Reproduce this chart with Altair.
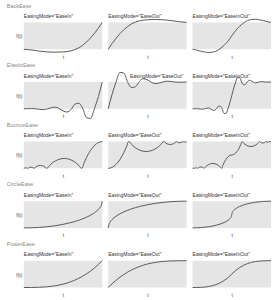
import altair as alt
import pandas as pd

ROW_NAMES = ["BackEase", "ElasticEase", "BounceEase", "CircleEase", "PowerEase"]
MODE_NAMES = ["EaseIn", "EaseOut", "EaseInOut"]

T10 = [0.0, 0.1, 0.2, 0.3, 0.4, 0.5, 0.6, 0.7, 0.8, 0.9, 1.0]
T20 = [0.0, 0.05, 0.1, 0.15, 0.2, 0.25, 0.3, 0.35, 0.4, 0.45, 0.5,
       0.55, 0.6, 0.65, 0.7, 0.75, 0.8, 0.85, 0.9, 0.95, 1.0]
T40 = [0.0, 0.025, 0.05, 0.075, 0.1, 0.125, 0.15, 0.175, 0.2, 0.225, 0.25,
       0.275, 0.3, 0.325, 0.35, 0.375, 0.4, 0.425, 0.45, 0.475, 0.5,
       0.525, 0.55, 0.575, 0.6, 0.625, 0.65, 0.675, 0.7, 0.725, 0.75,
       0.775, 0.8, 0.825, 0.85, 0.875, 0.9, 0.925, 0.95, 0.975, 1.0]

# BackEase
back_in_t = T10
back_in_v = [0, -0.03, -0.07, -0.1, -0.11, -0.1, -0.06, 0.05, 0.27, 0.59, 1.0]
back_out_t = T10
back_out_v = [0, 0.41, 0.73, 0.95, 1.06, 1.1, 1.11, 1.1, 1.07, 1.03, 1.0]
back_io_t = T20
back_io_v = [0, -0.03, -0.07, -0.1, -0.12, -0.11, -0.07, 0.02, 0.14, 0.3, 0.5,
             0.7, 0.86, 0.98, 1.07, 1.11, 1.12, 1.1, 1.07, 1.03, 1.0]

# ElasticEase
elastic_in_t = T20
elastic_in_v = [0, 0.005, 0.01, 0, -0.02, -0.03, -0.005, 0.04, 0.06, 0.01, -0.08,
                -0.12, -0.03, 0.17, 0.21, 0.02, -0.33, -0.36, 0, 0.45, 1.0]
elastic_out_t = T20
elastic_out_v = [0, 0.55, 1.0, 1.36, 1.33, 0.98, 0.79, 0.83, 1.03, 1.12, 1.08,
                 0.99, 0.94, 0.96, 1.005, 1.03, 1.02, 1.0, 0.99, 0.995, 1.0]
elastic_io_t = T40
elastic_io_v = [0, 0.0025, 0.005, 0, -0.01, -0.015, -0.0025, 0.02, 0.03, 0.005, -0.04,
                -0.06, -0.015, 0.085, 0.105, 0.01, -0.165, -0.18, 0, 0.225, 0.5,
                0.775, 1.0, 1.18, 1.165, 0.99, 0.895, 0.915, 1.015, 1.06, 1.04,
                0.995, 0.97, 0.98, 1.0025, 1.015, 1.01, 1.0, 0.995, 0.9975, 1.0]

# BounceEase
bounce_in_t = [0, 0.0125, 0.025, 0.0375, 0.05, 0.07, 0.09, 0.11, 0.13, 0.15, 0.17,
               0.21, 0.25, 0.27, 0.29, 0.346, 0.403, 0.515, 0.628, 0.684, 0.74,
               0.77, 0.8, 0.85, 0.9, 0.95, 1.0]
bounce_in_v = [0, 0.015, 0.02, 0.015, 0, 0.034, 0.045, 0.034, 0, 0.048, 0.083,
               0.11, 0.083, 0.048, 0, 0.162, 0.278, 0.37, 0.278, 0.162, 0,
               0.217, 0.408, 0.667, 0.852, 0.963, 1.0]
bounce_out_t = [0, 0.05, 0.1, 0.15, 0.2, 0.23, 0.26, 0.316, 0.372, 0.485, 0.597,
                0.654, 0.71, 0.73, 0.75, 0.79, 0.83, 0.85, 0.87, 0.89, 0.91,
                0.93, 0.95, 0.9625, 0.975, 0.9875, 1.0]
bounce_out_v = [0, 0.037, 0.148, 0.333, 0.592, 0.783, 1.0, 0.838, 0.722, 0.63, 0.722,
                0.838, 1.0, 0.952, 0.917, 0.89, 0.917, 0.952, 1.0, 0.966, 0.955,
                0.966, 1.0, 0.985, 0.98, 0.985, 1.0]
bounce_io_t = [0, 0.0125, 0.025, 0.035, 0.045, 0.055, 0.065, 0.075, 0.085, 0.105,
               0.125, 0.135, 0.145, 0.173, 0.2015, 0.2575, 0.314, 0.342, 0.37,
               0.385, 0.4, 0.425, 0.45, 0.475, 0.5, 0.525, 0.55, 0.575, 0.6,
               0.615, 0.63, 0.658, 0.686, 0.7425, 0.7985, 0.827, 0.855, 0.865,
               0.875, 0.895, 0.915, 0.925, 0.935, 0.945, 0.955, 0.965, 0.975,
               0.9875, 1.0]
bounce_io_v = [0, 0.01, 0, 0.017, 0.0225, 0.017, 0, 0.024, 0.0415, 0.055,
               0.0415, 0.024, 0, 0.081, 0.139, 0.185, 0.139, 0.081, 0,
               0.1085, 0.204, 0.3335, 0.426, 0.4815, 0.5, 0.5185, 0.574, 0.6665, 0.796,
               0.8915, 1.0, 0.919, 0.861, 0.815, 0.861, 0.919, 1.0, 0.976,
               0.9585, 0.945, 0.9585, 0.976, 1.0, 0.983, 0.9775, 0.983, 1.0,
               0.99, 1.0]

# CircleEase
circle_in_t = [0, 0.1, 0.2, 0.3, 0.4, 0.5, 0.6, 0.7, 0.8, 0.85, 0.9, 0.95, 0.975, 0.99, 1.0]
circle_in_v = [0, 0.005, 0.02, 0.046, 0.083, 0.134, 0.2, 0.286, 0.4, 0.473, 0.564,
               0.688, 0.778, 0.859, 1.0]
circle_out_t = [0, 0.01, 0.025, 0.05, 0.1, 0.15, 0.2, 0.3, 0.4, 0.5, 0.6, 0.7, 0.8, 0.9, 1.0]
circle_out_v = [0, 0.141, 0.222, 0.312, 0.436, 0.527, 0.6, 0.714, 0.8, 0.866, 0.917,
                0.954, 0.98, 0.995, 1.0]
circle_io_t = [0, 0.1, 0.2, 0.25, 0.3, 0.35, 0.4, 0.425, 0.45, 0.475, 0.4875, 0.495, 0.5,
               0.505, 0.5125, 0.525, 0.55, 0.575, 0.6, 0.65, 0.7, 0.75, 0.8, 0.9, 1.0]
circle_io_v = [0, 0.01, 0.042, 0.067, 0.1, 0.143, 0.2, 0.237, 0.282, 0.344, 0.389, 0.43, 0.5,
               0.57, 0.611, 0.656, 0.718, 0.763, 0.8, 0.857, 0.9, 0.933, 0.958, 0.99, 1.0]

# PowerEase
power_in_t = T10
power_in_v = [0, 0.001, 0.008, 0.027, 0.064, 0.125, 0.216, 0.343, 0.512, 0.729, 1.0]
power_out_t = T10
power_out_v = [0, 0.271, 0.488, 0.657, 0.784, 0.875, 0.936, 0.973, 0.992, 0.999, 1.0]
power_io_t = T20
power_io_v = [0, 0.0005, 0.004, 0.0135, 0.032, 0.0625, 0.108, 0.1715, 0.256, 0.3645, 0.5,
              0.6355, 0.744, 0.8285, 0.892, 0.9375, 0.968, 0.9865, 0.996, 0.9995, 1.0]

CURVES = [
    [(back_in_t, back_in_v), (back_out_t, back_out_v), (back_io_t, back_io_v)],
    [(elastic_in_t, elastic_in_v), (elastic_out_t, elastic_out_v), (elastic_io_t, elastic_io_v)],
    [(bounce_in_t, bounce_in_v), (bounce_out_t, bounce_out_v), (bounce_io_t, bounce_io_v)],
    [(circle_in_t, circle_in_v), (circle_out_t, circle_out_v), (circle_io_t, circle_io_v)],
    [(power_in_t, power_in_v), (power_out_t, power_out_v), (power_io_t, power_io_v)],
]
# horizontal shift of a panel title (only ElasticEase / EaseOut is moved aside)
TITLE_DX = [[0, 0, 0], [0, 22, 0], [0, 0, 0], [0, 0, 0], [0, 0, 0]]

FONT = "Liberation Sans"
BG = "#e5e5e5"
LINE = "#5a5a5a"
W = 79
H = 54
Y_DOMAIN = [-0.5, 1.5]

band = pd.DataFrame({"x0": [0.0], "x1": [1.0], "y0": [0.0], "y1": [1.0]})
xs = alt.Scale(domain=[0, 1], nice=False, zero=False)
ys = alt.Scale(domain=Y_DOMAIN, nice=False, zero=False)


def panel(r, c):
    t, v = CURVES[r][c]
    df = pd.DataFrame({"t": t, "v": v})
    xaxis = alt.Axis(title="t", labels=False, ticks=False, domain=False, grid=False,
                     titleFont=FONT, titleFontSize=5, titleFontWeight="normal",
                     titleColor="#444", titleY=-6.5, titleBaseline="middle")
    if c == 0:
        yaxis = alt.Axis(title="f(t)", labels=False, ticks=False, domain=False, grid=False,
                         titleFont=FONT, titleFontSize=5, titleFontWeight="normal",
                         titleColor="#444", titleAngle=0, titleAlign="right",
                         titleBaseline="middle", titleX=-2, titleY=27)
    else:
        yaxis = None
    rect = alt.Chart(band).mark_rect(color=BG).encode(
        x=alt.X("x0:Q", scale=xs, axis=xaxis),
        x2="x1:Q",
        y=alt.Y("y0:Q", scale=ys, axis=yaxis),
        y2="y1:Q",
    )
    line = alt.Chart(df).mark_line(color=LINE, strokeWidth=1, interpolate="monotone").encode(
        x=alt.X("t:Q", scale=xs),
        y=alt.Y("v:Q", scale=ys),
    )
    title = alt.TitleParams(
        'EasingMode="%s"' % MODE_NAMES[c], anchor="start", frame="group",
        font=FONT, fontSize=5, fontWeight="normal", color="#333",
        offset=-10, dx=TITLE_DX[r][c],
    )
    return alt.layer(rect, line).properties(width=W, height=H, title=title)


rows = []
for r, name in enumerate(ROW_NAMES):
    row = alt.hconcat(
        *[panel(r, c) for c in range(3)],
        spacing=6, bounds="flush",
        title=alt.TitleParams(name, anchor="start", dx=-9, offset=0, font=FONT,
                              fontSize=5.5, fontWeight="normal", color="#8a8a8a"),
    )
    rows.append(row)

chart = alt.vconcat(*rows, spacing=0).properties(
    padding={"left": 6, "top": 2, "right": 0, "bottom": 0},
    background="white",
).configure_view(stroke=None)

chart.save("out.html", embed_options={"renderer": "svg", "actions": False})
